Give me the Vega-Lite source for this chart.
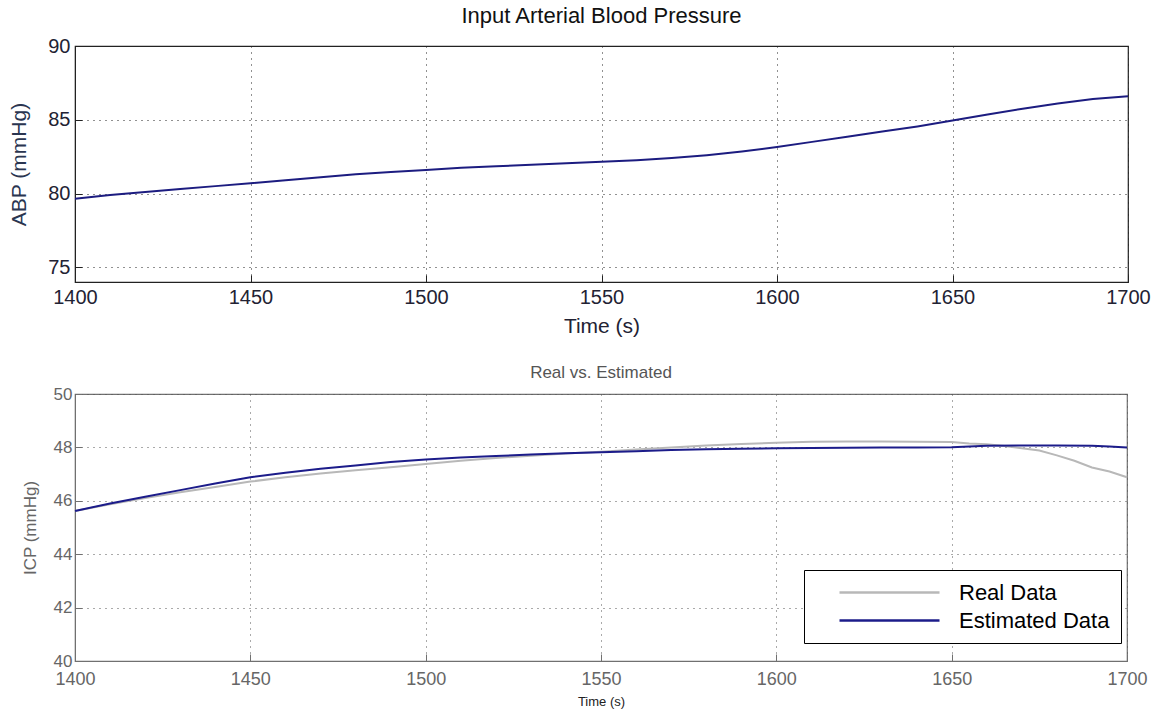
{
  "$schema": "https://vega.github.io/schema/vega-lite/v6.json",
  "padding": {"left": 8, "top": 4, "right": 5, "bottom": 5},
  "background": "#ffffff",
  "config": {
    "font": "Liberation Sans",
    "axis": {"labelFont": "Liberation Sans", "titleFont": "Liberation Sans", "titleFontWeight": "normal", "labelFlush": false, "labelOverlap": false},
    "title": {"font": "Liberation Sans", "fontWeight": "normal"}
  },
  "datasets": {
    "abp": [
      {"t": 1400, "v": 79.65}, {"t": 1410, "v": 79.9}, {"t": 1420, "v": 80.1}, {"t": 1430, "v": 80.3},
      {"t": 1440, "v": 80.5}, {"t": 1450, "v": 80.7}, {"t": 1460, "v": 80.9}, {"t": 1470, "v": 81.1},
      {"t": 1480, "v": 81.3}, {"t": 1490, "v": 81.45}, {"t": 1500, "v": 81.6}, {"t": 1510, "v": 81.75},
      {"t": 1520, "v": 81.85}, {"t": 1530, "v": 81.95}, {"t": 1540, "v": 82.05}, {"t": 1550, "v": 82.15},
      {"t": 1560, "v": 82.25}, {"t": 1570, "v": 82.4}, {"t": 1580, "v": 82.6}, {"t": 1590, "v": 82.85},
      {"t": 1600, "v": 83.15}, {"t": 1610, "v": 83.5}, {"t": 1620, "v": 83.85}, {"t": 1630, "v": 84.2},
      {"t": 1640, "v": 84.55}, {"t": 1650, "v": 84.95}, {"t": 1660, "v": 85.35}, {"t": 1670, "v": 85.75},
      {"t": 1680, "v": 86.1}, {"t": 1690, "v": 86.4}, {"t": 1700, "v": 86.6}
    ],
    "icp": [
      {"t": 1400, "v": 45.62, "series": "Real Data"}, {"t": 1410, "v": 45.87, "series": "Real Data"},
      {"t": 1420, "v": 46.1, "series": "Real Data"}, {"t": 1430, "v": 46.32, "series": "Real Data"},
      {"t": 1440, "v": 46.52, "series": "Real Data"}, {"t": 1450, "v": 46.72, "series": "Real Data"},
      {"t": 1460, "v": 46.88, "series": "Real Data"}, {"t": 1470, "v": 47.02, "series": "Real Data"},
      {"t": 1480, "v": 47.14, "series": "Real Data"}, {"t": 1490, "v": 47.26, "series": "Real Data"},
      {"t": 1500, "v": 47.38, "series": "Real Data"}, {"t": 1510, "v": 47.5, "series": "Real Data"},
      {"t": 1520, "v": 47.6, "series": "Real Data"}, {"t": 1530, "v": 47.69, "series": "Real Data"},
      {"t": 1540, "v": 47.77, "series": "Real Data"}, {"t": 1550, "v": 47.84, "series": "Real Data"},
      {"t": 1560, "v": 47.92, "series": "Real Data"}, {"t": 1570, "v": 48.0, "series": "Real Data"},
      {"t": 1580, "v": 48.07, "series": "Real Data"}, {"t": 1590, "v": 48.13, "series": "Real Data"},
      {"t": 1600, "v": 48.17, "series": "Real Data"}, {"t": 1610, "v": 48.21, "series": "Real Data"},
      {"t": 1620, "v": 48.22, "series": "Real Data"}, {"t": 1630, "v": 48.22, "series": "Real Data"},
      {"t": 1640, "v": 48.21, "series": "Real Data"}, {"t": 1650, "v": 48.2, "series": "Real Data"},
      {"t": 1655, "v": 48.15, "series": "Real Data"}, {"t": 1660, "v": 48.12, "series": "Real Data"},
      {"t": 1665, "v": 48.05, "series": "Real Data"}, {"t": 1670, "v": 47.97, "series": "Real Data"},
      {"t": 1675, "v": 47.88, "series": "Real Data"}, {"t": 1680, "v": 47.7, "series": "Real Data"},
      {"t": 1685, "v": 47.5, "series": "Real Data"}, {"t": 1690, "v": 47.25, "series": "Real Data"},
      {"t": 1695, "v": 47.1, "series": "Real Data"}, {"t": 1700, "v": 46.88, "series": "Real Data"},
      {"t": 1400, "v": 45.62, "series": "Estimated Data"}, {"t": 1410, "v": 45.9, "series": "Estimated Data"},
      {"t": 1420, "v": 46.15, "series": "Estimated Data"}, {"t": 1430, "v": 46.4, "series": "Estimated Data"},
      {"t": 1440, "v": 46.65, "series": "Estimated Data"}, {"t": 1450, "v": 46.88, "series": "Estimated Data"},
      {"t": 1460, "v": 47.05, "series": "Estimated Data"}, {"t": 1470, "v": 47.2, "series": "Estimated Data"},
      {"t": 1480, "v": 47.32, "series": "Estimated Data"}, {"t": 1490, "v": 47.45, "series": "Estimated Data"},
      {"t": 1500, "v": 47.55, "series": "Estimated Data"}, {"t": 1510, "v": 47.62, "series": "Estimated Data"},
      {"t": 1520, "v": 47.68, "series": "Estimated Data"}, {"t": 1530, "v": 47.73, "series": "Estimated Data"},
      {"t": 1540, "v": 47.78, "series": "Estimated Data"}, {"t": 1550, "v": 47.82, "series": "Estimated Data"},
      {"t": 1560, "v": 47.86, "series": "Estimated Data"}, {"t": 1570, "v": 47.9, "series": "Estimated Data"},
      {"t": 1580, "v": 47.93, "series": "Estimated Data"}, {"t": 1590, "v": 47.95, "series": "Estimated Data"},
      {"t": 1600, "v": 47.97, "series": "Estimated Data"}, {"t": 1610, "v": 47.98, "series": "Estimated Data"},
      {"t": 1620, "v": 47.99, "series": "Estimated Data"}, {"t": 1630, "v": 48.0, "series": "Estimated Data"},
      {"t": 1640, "v": 48.0, "series": "Estimated Data"}, {"t": 1650, "v": 48.01, "series": "Estimated Data"},
      {"t": 1660, "v": 48.06, "series": "Estimated Data"}, {"t": 1670, "v": 48.07, "series": "Estimated Data"},
      {"t": 1680, "v": 48.07, "series": "Estimated Data"}, {"t": 1690, "v": 48.06, "series": "Estimated Data"},
      {"t": 1695, "v": 48.03, "series": "Estimated Data"}, {"t": 1700, "v": 48.0, "series": "Estimated Data"}
    ]
  },
  "spacing": 26,
  "vconcat": [
    {
      "width": 1053,
      "height": 236,
      "view": {"stroke": "#222222", "strokeWidth": 1.2},
      "title": {"text": "Input Arterial Blood Pressure", "fontSize": 22, "color": "#111111", "offset": 8},
      "data": {"name": "abp"},
      "mark": {"type": "line", "color": "#1c1c80", "strokeWidth": 2},
      "encoding": {
        "x": {
          "field": "t", "type": "quantitative",
          "scale": {"domain": [1400, 1700], "nice": false, "zero": false},
          "axis": {
            "values": [1400, 1450, 1500, 1550, 1600, 1650, 1700], "format": "d", "title": "Time (s)",
            "labelFontSize": 20, "titleFontSize": 21, "labelColor": "#222233", "titleColor": "#222233",
            "domainColor": "#222222", "tickColor": "#222222", "tickSize": -7, "labelPadding": 12, "titlePadding": 8,
            "gridColor": "#222222", "gridDash": [1, 5], "gridOpacity": 1
          }
        },
        "y": {
          "field": "v", "type": "quantitative",
          "scale": {"domain": [74, 90], "nice": false, "zero": false},
          "axis": {
            "values": [75, 80, 85, 90], "title": "ABP (mmHg)",
            "labelFontSize": 20, "titleFontSize": 21, "labelColor": "#222233", "titleColor": "#2a3550",
            "domainColor": "#222222", "tickColor": "#222222", "tickSize": -7, "labelPadding": 12, "titlePadding": 18,
            "gridColor": "#222222", "gridDash": [1, 5], "gridOpacity": 1
          }
        }
      }
    },
    {
      "width": 1052,
      "height": 267,
      "view": {"stroke": "#707070", "strokeWidth": 1.2},
      "title": {"text": "Real vs. Estimated", "fontSize": 17, "color": "#555555", "offset": 3},
      "data": {"name": "icp"},
      "encoding": {
        "x": {
          "field": "t", "type": "quantitative",
          "scale": {"domain": [1400, 1700], "nice": false, "zero": false},
          "axis": {
            "values": [1400, 1450, 1500, 1550, 1600, 1650, 1700], "format": "d", "title": "Time (s)",
            "labelFontSize": 18, "titleFontSize": 13, "labelColor": "#666666", "titleColor": "#222222",
            "domainColor": "#707070", "tickColor": "#707070", "tickSize": -7, "labelPadding": 16, "titlePadding": 7,
            "gridColor": "#555555", "gridDash": [1, 5], "gridOpacity": 1
          }
        },
        "y": {
          "field": "v", "type": "quantitative",
          "scale": {"domain": [40, 50], "nice": false, "zero": false},
          "axis": {
            "values": [40, 42, 44, 46, 48, 50], "title": "ICP (mmHg)",
            "labelFontSize": 17, "titleFontSize": 17, "labelColor": "#666666", "titleColor": "#666666",
            "domainColor": "#707070", "tickColor": "#707070", "tickSize": -7, "labelPadding": 10, "titlePadding": 14,
            "gridColor": "#555555", "gridDash": [1, 5], "gridOpacity": 1
          }
        },
        "color": {
          "field": "series", "type": "nominal",
          "scale": {"domain": ["Real Data", "Estimated Data"], "range": ["#b8b8b8", "#1c1c8a"]},
          "legend": {
            "orient": "none", "legendX": 729, "legendY": 524, "title": null,
            "strokeColor": "#000000", "fillColor": "#ffffff", "padding": 11,
            "symbolType": "M-5,0L5,0", "symbolSize": 400, "symbolStrokeWidth": 2.5,
            "symbolOffset": 63, "labelOffset": 58, "labelFontSize": 22, "labelColor": "#000000",
            "labelFont": "Liberation Sans", "rowPadding": 5
          }
        }
      },
      "layer": [
        {"transform": [{"filter": "datum.series === 'Real Data'"}], "mark": {"type": "line", "strokeWidth": 2}},
        {"transform": [{"filter": "datum.series === 'Estimated Data'"}], "mark": {"type": "line", "strokeWidth": 2}}
      ]
    }
  ]
}
